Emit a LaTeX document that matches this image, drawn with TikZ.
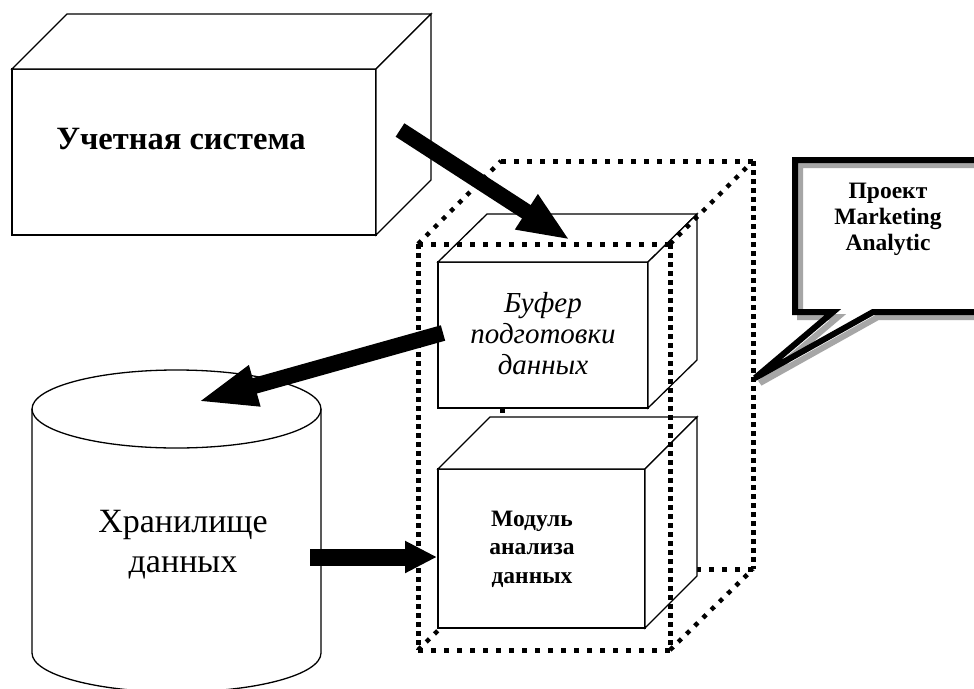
\documentclass[tikz,border=0pt]{standalone}
\usepackage{fontspec}
\setmainfont{Liberation Serif}
\usetikzlibrary{arrows.meta}
\begin{document}
\begin{tikzpicture}[x=1pt,y=-1pt,
  boxline/.style={line width=1.3pt, line join=miter},
  boxfill/.style={boxline, fill=white},
  dotH/.style={line width=5pt, dash pattern=on 5pt off 8pt},
  dotV/.style={line width=5pt, dash pattern=on 5pt off 4pt},
  dotD/.style={line width=4.5pt, dash pattern=on 4.5pt off 7pt},
  blockarrow/.style={line width=16pt, -{Triangle[length=52pt,width=38pt]}},
  lbl/.style={inner sep=0pt, align=center},
]
\clip (0,0) rectangle (974,688);
\fill[white] (0,0) rectangle (974,688);

% hidden edges of the dotted cube
\draw[line width=5pt] (502,408) -- (502,413);
\draw[dotH] (501,569) -- (753,569);
\draw[dotD] (418,650) -- (501,569);

% Box A: accounting system
\draw[boxfill] (12,69) rectangle (376,235);
\draw[boxfill] (12,69) -- (67,14) -- (431,14) -- (376,69) -- cycle;
\draw[boxfill] (376,69) -- (431,14) -- (431,180) -- (376,235) -- cycle;
\node[lbl, font=\fontsize{32.5}{38}\selectfont\bfseries] (uchet) at (181,139) {Учетная система};

% Box B: buffer
\draw[boxfill] (438,262) rectangle (648,408);
\draw[boxfill] (438,262) -- (487,214) -- (697,214) -- (648,262) -- cycle;
\draw[boxfill] (648,262) -- (697,214) -- (697,360) -- (648,408) -- cycle;
\node[lbl, font=\fontsize{29}{31}\selectfont\itshape] (buf) at (543,334) {Буфер\\подготовки\\данных};

% Box C: analysis module
\draw[boxfill] (438,469) rectangle (645,628);
\draw[boxfill] (438,469) -- (490,417) -- (697,417) -- (645,469) -- cycle;
\draw[boxfill] (645,469) -- (697,417) -- (697,576) -- (645,628) -- cycle;
\node[lbl, font=\fontsize{23.5}{28.5}\selectfont\bfseries] (mod) at (532,549) {Модуль\\анализа\\данных};

% visible edges of the dotted cube
\draw[dotH] (418,244) -- (670,244);
\draw[dotH] (418,650) -- (670,650);
\draw[dotV] (418,244) -- (418,650);
\draw[dotV] (670,244) -- (670,650);
\draw[dotH] (501,161) -- (753,161);
\draw[dotV] (753,161) -- (753,569);
\draw[dotD] (418,244) -- (501,161);
\draw[dotD] (670,244) -- (753,161);
\draw[dotD] (670,650) -- (753,569);

% cylinder: data warehouse
\draw[boxfill] (32,409) -- (32,653) arc[start angle=180, end angle=0, x radius=144.5, y radius=39] -- (321,409)
  arc[start angle=0, end angle=-180, x radius=144.5, y radius=39] -- cycle;
\draw[boxline] (32,409) arc[start angle=180, end angle=0, x radius=144.5, y radius=39];
\node[lbl, font=\fontsize{34}{40}\selectfont] (store) at (183,545) {Хранилище\\данных};

% callout
\draw[line width=6pt, gray!70, line join=miter, shift={(5,5)}]
  (755,378) -- (833,312) -- (795,312) -- (795,160) -- (990,160) -- (990,312) -- (873,312) -- cycle;
\draw[line width=6pt, black, line join=miter]
  (755,378) -- (833,312) -- (795,312) -- (795,160) -- (990,160) -- (990,312) -- (873,312) -- cycle;
\node[lbl, font=\fontsize{23.5}{26}\selectfont\bfseries] (proj) at (888,219) {Проект\\Marketing\\Analytic};

% arrows
\coordinate (a1s) at (400,130);
\coordinate (a1e) at (570,240);
\coordinate (a2s) at (443,333);
\coordinate (a2e) at (197,402);
\coordinate (a3s) at (310,557);
\coordinate (a3e) at (437,557);
\draw[blockarrow] (a1s) -- (a1e);
\draw[line width=16pt, -{Triangle[length=60pt,width=38pt]}] (a2s) -- (a2e);
\draw[line width=17pt, -{Triangle[length=32pt,width=30pt]}] (a3s) -- (a3e);
\end{tikzpicture}
\end{document}
